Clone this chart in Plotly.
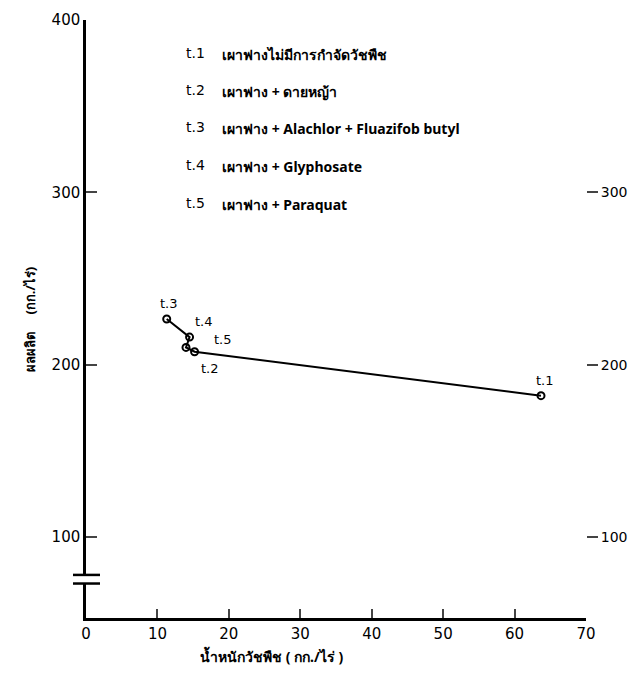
import plotly.graph_objects as go

# Data
treatments = ["t.1", "t.2", "t.3", "t.4", "t.5"]
weed_weight = [63.7, 15.2, 11.3, 14.5, 14.0]   # kg/rai
yield_kg = [182.0, 207.5, 226.5, 216.0, 210.0]  # kg/rai
line_order = ["t.3", "t.4", "t.5", "t.2", "t.1"]
legend_labels = [
    "เผาฟางไม่มีการกำจัดวัชพืช",
    "เผาฟาง + ดายหญ้า",
    "เผาฟาง + Alachlor + Fluazifob butyl",
    "เผาฟาง + Glyphosate",
    "เผาฟาง + Paraquat",
]
x_ticks = [0, 10, 20, 30, 40, 50, 60, 70]
y_ticks = [100, 200, 300, 400]
y_ticks_right = [100, 200, 300]

FONT = "DejaVu Sans"
idx = {t: i for i, t in enumerate(treatments)}
lx = [weed_weight[idx[t]] for t in line_order]
ly = [yield_kg[idx[t]] for t in line_order]

fig = go.Figure()
fig.add_trace(go.Scatter(
    x=lx, y=ly, mode="lines+markers",
    line=dict(color="black", width=2),
    marker=dict(symbol="circle-open", size=7, color="black", line=dict(width=2)),
    showlegend=False, hoverinfo="skip",
))
# invisible trace for right axis
fig.add_trace(go.Scatter(x=[None], y=[None], yaxis="y2", showlegend=False))

# point labels
shifts = {"t.1": (4, 15), "t.2": (15, -17), "t.3": (2, 16), "t.4": (14, 16), "t.5": (37, 8)}
for t, xv, yv in zip(treatments, weed_weight, yield_kg):
    dx, dy = shifts[t]
    fig.add_annotation(x=xv, y=yv, text=t, showarrow=False, xshift=dx, yshift=dy,
                       font=dict(family=FONT, size=13, color="black"))

# legend text block
leg_y = [0.962, 0.900, 0.838, 0.774, 0.711]
for t, lab, yy in zip(treatments, legend_labels, leg_y):
    fig.add_annotation(xref="paper", yref="paper", x=0.195, y=yy, text=t, showarrow=False,
                       xanchor="left", font=dict(family=FONT, size=14, color="black"))
    fig.add_annotation(xref="paper", yref="paper", x=0.268, y=yy, text="<b>" + lab + "</b>",
                       showarrow=False, xanchor="left",
                       font=dict(family="Noto Sans", size=14, color="black"))

# axis titles
fig.add_annotation(xref="paper", yref="paper", x=0.37, y=-0.064, text="<b>น้ำหนักวัชพืช ( กก./ไร่ )</b>",
                   showarrow=False, yanchor="middle", font=dict(family="Noto Sans", size=14, color="black"))
fig.add_annotation(xref="paper", yref="paper", x=-0.135, y=0.50, text="<b>ผลผลิต     (กก./ไร่)</b>",
                   showarrow=False, textangle=-90, font=dict(family="Noto Sans", size=13, color="black"))

# axis break marks
fig.add_shape(type="rect", xref="paper", yref="y", x0=-0.02, x1=0.02, y0=73, y1=78,
              fillcolor="white", line=dict(width=0), layer="above")
for yb in [78, 73]:
    fig.add_shape(type="line", xref="paper", yref="y", x0=-0.026, x1=0.028, y0=yb, y1=yb,
                  line=dict(color="black", width=2.5), layer="above")

# page has an 8px body margin, so the figure is sized/offset to compensate
fig.update_layout(
    width=621, height=663,
    margin=dict(l=78, r=43, t=12, b=53, autoexpand=False),
    paper_bgcolor="white", plot_bgcolor="white",
    font=dict(family=FONT, size=14, color="black"),
    xaxis=dict(range=[0, 70], tickvals=x_ticks, ticks="inside", ticklen=9, tickwidth=2,
               showline=True, linewidth=2.5, linecolor="black", showgrid=False, zeroline=False,
               automargin=False, tickfont=dict(family=FONT, size=15)),
    yaxis=dict(range=[53, 400], tickvals=y_ticks, ticks="inside", ticklen=11, tickwidth=2,
               showline=True, linewidth=2.5, linecolor="black", showgrid=False, zeroline=False,
               automargin=False, tickfont=dict(family=FONT, size=15)),
    yaxis2=dict(range=[53, 400], tickvals=y_ticks_right, overlaying="y", side="right",
                ticks="outside", ticklen=11, tickwidth=2, showline=False, showgrid=False,
                zeroline=False, ticklabelstandoff=0, automargin=False,
                tickfont=dict(family=FONT, size=14)),
)

fig.write_html("out.html")
